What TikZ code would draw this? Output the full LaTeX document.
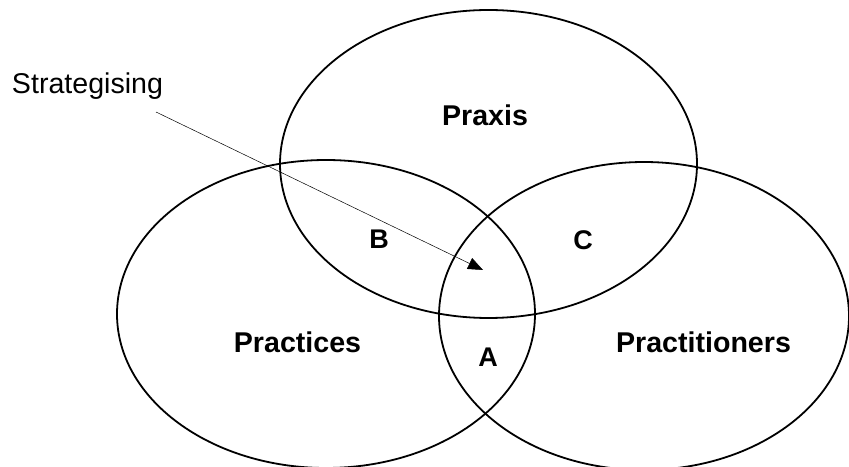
\documentclass[tikz,border=0pt]{standalone}
\usepackage{fontspec}
\setmainfont{Liberation Sans}
\usetikzlibrary{arrows.meta}
\begin{document}
\begin{tikzpicture}[x=1bp,y=-1bp,
  setring/.style={line width=1.8bp},
  setname/.style={font=\fontsize{28.6bp}{34bp}\selectfont\bfseries, anchor=base, inner sep=0},
  zone/.style={font=\fontsize{27bp}{32bp}\selectfont\bfseries, anchor=base, inner sep=0},
  callout/.style={font=\fontsize{28.6bp}{34bp}\selectfont, anchor=base, inner sep=0},
  pointer/.style={line width=0.5bp, -{Triangle[length=15bp,width=12bp]}}]
  \useasboundingbox (0,0) rectangle (849,467);
  % the three overlapping sets
  \draw[setring] (488.5,164) ellipse [x radius=208.5, y radius=154];
  \draw[setring] (326,314) ellipse [x radius=209, y radius=154];
  \draw[setring] (644,316) ellipse [x radius=205, y radius=154];
  % set names
  \node[setname] (praxis) at (485,126) {Praxis};
  \node[setname] (practices) at (297.5,353) {Practices};
  \node[setname] (practitioners) at (703.5,353) {Practitioners};
  % pairwise overlaps
  \node[zone] (a) at (488,367) {A};
  \node[zone] (b) at (379,249) {B};
  \node[zone] (c) at (583,250) {C};
  % label pointing into the common centre
  \node[callout] (strat) at (87.5,94) {Strategising};
  \coordinate (tail) at (156,112);
  \coordinate (centre) at (483,270);
  \draw[pointer] (tail) -- (centre);
\end{tikzpicture}
\end{document}
